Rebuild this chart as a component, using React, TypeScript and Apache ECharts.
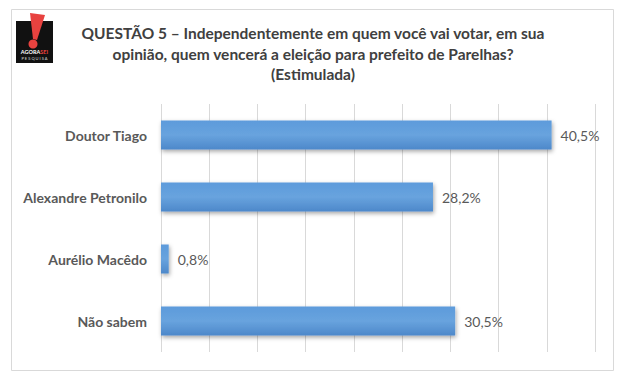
import React, { useEffect, useRef } from "react";
import * as echarts from "echarts";

const categories = ["Doutor Tiago", "Alexandre Petronilo", "Aurélio Macêdo", "Não sabem"];
const values = [40.5, 28.2, 0.8, 30.5];
const valueLabels = ["40,5%", "28,2%", "0,8%", "30,5%"];
const titleLines = [
  "QUESTÃO 5 – Independentemente em quem você vai votar, em sua",
  "opinião, quem vencerá a eleição para prefeito de Parelhas?",
  "(Estimulada)",
];

export default function App() {
  const ref = useRef<HTMLDivElement>(null);
  useEffect(() => {
    document.body.style.margin = "0";
    const chart = echarts.init(ref.current!, null, { renderer: "svg" });
    const font = "Lato, 'Open Sans', sans-serif";
    chart.setOption({
      animation: false,
      backgroundColor: "#ffffff",
      grid: { left: 161, right: 25, top: 104, bottom: 29, containLabel: false },
      xAxis: {
        type: "value",
        min: 0,
        max: 45,
        interval: 5,
        axisLabel: { show: false },
        axisLine: { show: false },
        axisTick: { show: false },
        splitLine: { show: true, lineStyle: { color: "#d9d9d9", width: 1 } },
      },
      yAxis: {
        type: "category",
        inverse: true,
        data: categories,
        axisLine: { show: false },
        axisTick: { show: false },
        axisLabel: {
          color: "#595959",
          fontFamily: font,
          fontWeight: "bold",
          fontSize: 14,
          margin: 14,
        },
      },
      series: [
        {
          type: "bar",
          data: values,
          barWidth: 29,
          itemStyle: {
            color: new echarts.graphic.LinearGradient(0, 0, 0, 1, [
              { offset: 0, color: "#5d9bdb" },
              { offset: 0.5, color: "#68a3de" },
              { offset: 1, color: "#4d88ca" },
            ]),
            shadowColor: "rgba(0,0,0,0.35)",
            shadowBlur: 4,
            shadowOffsetX: 1,
            shadowOffsetY: 2,
          },
          label: {
            show: true,
            position: "right",
            distance: 9,
            color: "#595959",
            fontFamily: font,
            fontSize: 14,
            formatter: (p: any) => valueLabels[p.dataIndex],
          },
        },
      ],
      graphic: [
        {
          type: "rect",
          shape: { x: 11.5, y: 9.5, width: 602, height: 361 },
          style: { fill: "none", stroke: "#d9d9d9", lineWidth: 1 },
          silent: true,
        },
        {
          type: "rect",
          shape: { x: 16, y: 21, width: 37, height: 42 },
          style: { fill: "#111111" },
        },
        {
          type: "polygon",
          shape: { points: [[30, 13], [45, 15], [37, 40], [33, 39]] },
          style: { fill: "#e8423f" },
        },
        {
          type: "circle",
          shape: { cx: 33, cy: 44, r: 4.5 },
          style: { fill: "#e8423f" },
        },
        {
          type: "text",
          x: 34.5,
          y: 52,
          style: {
            text: "{w|AGORA}{r|SEI}",
            align: "center",
            verticalAlign: "middle",
            rich: {
              w: { fill: "#ffffff", fontSize: 5.5, fontWeight: "bold", fontFamily: font },
              r: { fill: "#e8423f", fontSize: 5.5, fontWeight: "bold", fontFamily: font },
            },
          },
        },
        {
          type: "text",
          x: 34.5,
          y: 58,
          style: {
            text: "P E S Q U I S A",
            align: "center",
            verticalAlign: "middle",
            fill: "#dddddd",
            fontSize: 4,
            fontFamily: font,
          },
        },
        ...titleLines.map((t, i) => ({
          type: "text",
          x: 313,
          y: 33 + i * 20.5,
          style: {
            text: t,
            align: "center",
            verticalAlign: "middle",
            fill: "#404040",
            fontSize: 15.5,
            fontWeight: "bold",
            fontFamily: font,
          },
        })),
      ],
    });
    return () => chart.dispose();
  }, []);
  return <div ref={ref} style={{ width: 620, height: 381 }} />;
}
